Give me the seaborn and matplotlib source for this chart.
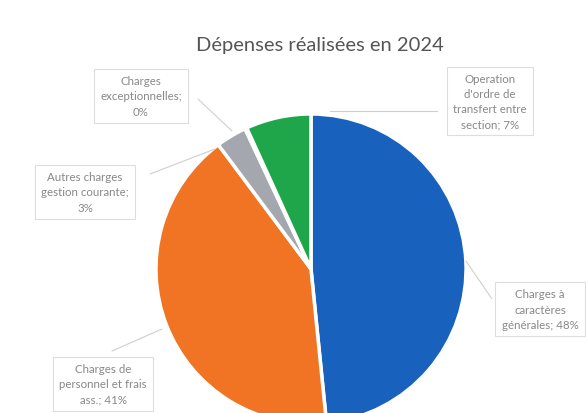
import matplotlib
matplotlib.use("Agg")
import matplotlib.pyplot as plt
import seaborn as sns

sns.set_theme(style="white")
plt.rcParams['font.family'] = ['Lato', 'DejaVu Sans']

categories = ["Charges à caractères générales", "Charges de personnel et frais ass.",
              "Autres charges gestion courante", "Charges exceptionnelles",
              "Operation d'ordre de transfert entre section"]
values = [48.4, 41.4, 3.2, 0.2, 6.8]
pct_labels = ["48%", "41%", "3%", "0%", "7%"]
label_texts = ["Charges à\ncaractères\ngénérales; 48%",
               "Charges de\npersonnel et frais\nass.; 41%",
               "Autres charges\ngestion courante;\n3%",
               "Charges\nexceptionnelles;\n0%",
               "Operation\nd'ordre de\ntransfert entre\nsection; 7%"]
colors = ["#1862BE", "#F07424", "#A4A8AE", "#FFC000", "#1FA64A"]
title = "Dépenses réalisées en 2024"

W, H = 588, 414
fig = plt.figure(figsize=(W / 100, H / 100), dpi=100)
ax = fig.add_axes([0, 0, 1, 1])
cx, cy, r = 311, H - 270, 155
ax.pie(values, colors=colors, startangle=90, counterclock=False,
       center=(cx, cy), radius=r, explode=[0.04] * len(values),
       wedgeprops=dict(edgecolor="white", linewidth=2.5))
ax.set_xlim(0, W)
ax.set_ylim(0, H)
ax.set_aspect("equal")
ax.axis("off")

# label boxes (positions in pixel coords, y from top)
label_pos = [(540, 310), (103, 385), (85, 193), (141, 97), (490, 102)]
anchor_pts = [(466, 262), (162, 330), (215, 150), (232, 132), (330, 112)]
box_edge = [(492, 300), (112, 352), (150, 175), (198, 100), (437, 112)]
for txt, (lx, ly), (ax_, ay_), (bx, by) in zip(label_texts, label_pos, anchor_pts, box_edge):
    ax.plot([ax_, bx], [H - ay_, H - by], color="#CFCFCF", lw=0.8, zorder=1)
    ax.text(lx, H - ly, txt, ha="center", va="center", fontsize=8.3,
            color="#888888", linespacing=1.45,
            bbox=dict(boxstyle="square,pad=0.55", fc="white", ec="#DDDDDD", lw=0.8))

ax.text(320, H - 45, title, ha="center", va="center", fontsize=14.5, color="#555555")

fig.savefig("out.png", dpi=100)
